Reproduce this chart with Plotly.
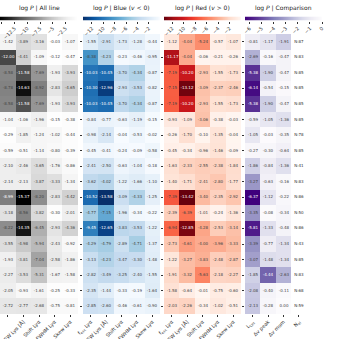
import numpy as np
import plotly.graph_objects as go
import plotly.express as px

# rows of log P values, columns: f_esc, EW, Shift, FWHM, Skew
all_line = [
    [-1.42, -3.89, -3.16, -0.03, -1.07],
    [-12.00, -4.41, -1.09, -0.12, -0.47],
    [-8.58, -11.58, -7.69, -1.93, -3.93],
    [-8.78, -14.63, -8.92, -2.83, -4.65],
    [-8.58, -11.58, -7.69, -1.93, -3.93],
    [-1.04, -1.06, -1.96, -0.15, -0.38],
    [-0.29, -1.85, -1.24, -1.02, -0.44],
    [-0.59, -0.51, -1.14, -0.80, -0.39],
    [-2.10, -2.46, -3.65, -1.76, -0.86],
    [-2.14, -2.13, -3.87, -3.33, -1.34],
    [-8.99, -15.37, -8.20, -2.83, -4.42],
    [-3.18, -8.56, -3.82, -0.30, -2.01],
    [-8.22, -14.35, -6.45, -2.93, -4.36],
    [-3.55, -4.98, -5.94, -2.43, -0.92],
    [-1.93, -3.81, -7.04, -2.58, -1.86],
    [-2.27, -3.53, -5.31, -1.67, -1.58],
    [-2.05, -0.93, -1.61, -0.25, -0.33],
    [-2.72, -2.77, -2.68, -0.75, -0.81],
]
blue = [
    [-1.55, -2.91, -1.73, -1.28, -0.44],
    [-8.38, -4.23, -0.23, -0.46, -0.95],
    [-10.03, -10.45, -3.70, -4.34, -0.87],
    [-10.30, -12.96, -2.93, -3.53, -0.82],
    [-10.03, -10.45, -3.70, -4.34, -0.87],
    [-0.84, -0.77, -0.63, -1.19, -0.15],
    [-0.98, -2.14, -0.04, -0.53, -0.02],
    [-0.45, -0.41, -0.24, -0.09, -0.58],
    [-2.41, -2.50, -0.63, -1.04, -0.18],
    [-3.62, -4.02, -1.22, -1.66, -1.10],
    [-10.52, -13.58, -3.09, -4.33, -1.25],
    [-4.77, -7.15, -1.96, -0.34, -0.22],
    [-9.45, -12.65, -3.83, -3.53, -1.22],
    [-4.29, -4.79, -2.89, -4.71, -1.37],
    [-3.13, -4.23, -3.47, -3.30, -1.48],
    [-2.82, -3.49, -3.25, -2.40, -1.55],
    [-2.35, -1.44, -0.33, -0.19, -1.64],
    [-2.85, -2.60, -0.46, -0.61, -0.90],
]
red = [
    [-1.12, -4.04, -5.24, -0.57, -1.07],
    [-11.17, -4.04, -0.06, -0.21, -0.26],
    [-7.19, -10.20, -2.93, -1.55, -1.73],
    [-7.15, -13.12, -3.09, -2.37, -2.46],
    [-7.19, -10.20, -2.93, -1.55, -1.73],
    [-0.93, -1.09, -3.06, -0.38, -0.03],
    [-0.26, -1.70, -0.10, -1.35, -0.04],
    [-0.45, -0.34, -0.96, -1.46, -0.09],
    [-1.63, -2.33, -2.55, -2.38, -1.84],
    [-1.40, -1.71, -2.41, -2.80, -1.77],
    [-7.39, -13.42, -3.40, -2.35, -2.92],
    [-2.39, -6.39, -1.01, -0.24, -1.36],
    [-6.94, -12.85, -4.28, -2.53, -3.14],
    [-2.73, -4.61, -4.00, -3.96, -3.33],
    [-1.22, -3.27, -3.83, -2.48, -2.87],
    [-1.91, -3.32, -5.63, -2.18, -2.27],
    [-1.58, -0.64, -0.01, -0.75, -0.60],
    [-2.03, -2.26, -0.34, -1.02, -0.51],
]
comparison = [
    [-0.81, -1.17, -1.91],
    [-2.69, -0.16, -0.47],
    [-5.38, -1.90, -0.47],
    [-6.14, -0.54, -0.15],
    [-5.38, -1.90, -0.47],
    [-0.59, -1.05, -1.36],
    [-1.05, -0.03, -0.35],
    [-0.27, -0.30, -0.64],
    [-1.86, -0.84, -1.36],
    [-3.27, -0.63, -0.16],
    [-6.37, -1.12, -0.22],
    [-3.35, -0.08, -0.34],
    [-5.81, -1.33, -0.48],
    [-3.39, -0.77, -1.34],
    [-3.07, -1.48, -1.34],
    [-1.85, -4.44, -2.63],
    [-2.08, -0.40, -0.11],
    [-2.13, -0.28, -0.00],
]
n_counts = [87, 83, 85, 85, 85, 85, 78, 85, 41, 83, 86, 50, 86, 43, 85, 83, 68, 59]

line_labels = ["f<sub>esc</sub> Lyα", "EW Lyα [Å]", "Shift Lyα", "FWHM Lyα", "Skew Lyα"]
comp_labels = ["L<sub>Lyα</sub>", "Δv peak", "Δv mom", "N<sub>el</sub>"]
titles = ["log <i>P</i> | All line", "log <i>P</i> | Blue (<i>v</i> < 0)",
          "log <i>P</i> | Red (<i>v</i> > 0)", "log <i>P</i> | Comparison"]
cb_ticks = [[-15, -12.5, -10, -7.5, -5, -2.5, 0],
            [-12, -10, -8, -6, -4, -2, 0],
            [-12, -10, -8, -6, -4, -2, 0],
            [-6, -5, -4, -3, -2, -1, 0]]


def rev(scale):
    cols = scale[::-1]
    return [[i / (len(cols) - 1), c] for i, c in enumerate(cols)]


W, H = 337, 339
panels_px = [(0, 78), (83, 160), (164, 241), (245, 322)]
heat_top, heat_bot = 34, 314
cb_top, cb_bot = 16.5, 20.5

fig = go.Figure()
font = "DejaVu Sans"
rows = list(range(len(n_counts)))

data_sets = [all_line, blue, red, comparison]
scales = [rev(px.colors.sequential.Greys), rev(px.colors.sequential.Blues),
          rev(px.colors.sequential.Reds), rev(px.colors.sequential.Purples)]

axis_common = dict(showgrid=False, zeroline=False, showline=False, automargin=False,
                   ticks="outside", ticklen=2, tickwidth=0.6, tickcolor="#333")

for i, (z, cs) in enumerate(zip(data_sets, scales)):
    ax = str(i + 1) if i else ""
    cax = str(i + 5)
    x0, x1 = panels_px[i]
    ncol = len(z[0])
    zmin, zmax = float(np.min(z)), float(np.max(z))

    fig.add_trace(go.Heatmap(
        z=z, x=list(range(ncol)), y=rows,
        colorscale=cs, zmin=zmin, zmax=zmax, showscale=False,
        texttemplate="%{z:.2f}",
        textfont=dict(size=4, family=font),
        xaxis="x" + ax, yaxis="y" + ax, hoverinfo="skip",
    ))
    labels = line_labels if i < 3 else comp_labels
    fig.layout["xaxis" + ax] = dict(
        domain=[x0 / W, x1 / W], anchor="y" + ax,
        range=[-0.5, 4.5],
        tickvals=list(range(len(labels))), ticktext=labels,
        tickangle=-45, tickfont=dict(size=5, family=font, color="#333"),
        **axis_common,
    )
    fig.layout["yaxis" + ax] = dict(
        domain=[1 - heat_bot / H, 1 - heat_top / H], anchor="x" + ax,
        range=[len(rows) - 0.5, -0.5],
        tickvals=rows, showticklabels=False,
        **axis_common,
    )

    # colour bar strip across the top of the panel
    grad = np.linspace(zmin, zmax, 200)
    fig.add_trace(go.Heatmap(
        z=[grad], x=grad, y=[0],
        colorscale=cs, zmin=zmin, zmax=zmax, showscale=False,
        xaxis="x" + cax, yaxis="y" + cax, hoverinfo="skip",
    ))
    fig.layout["xaxis" + cax] = dict(
        domain=[x0 / W, x1 / W], anchor="y" + cax,
        range=[zmin, zmax], side="bottom",
        tickvals=cb_ticks[i], tickangle=-45,
        tickfont=dict(size=5, family=font, color="#333"),
        **axis_common,
    )
    fig.layout["yaxis" + cax] = dict(
        domain=[1 - cb_bot / H, 1 - cb_top / H], anchor="x" + cax,
        range=[-0.5, 0.5], showticklabels=False, showgrid=False,
        zeroline=False, showline=False, ticks="",
    )

    fig.add_annotation(
        text=titles[i], x=(x0 + x1) / 2 / W, y=1 - 8 / H,
        xref="paper", yref="paper", xanchor="center", yanchor="middle",
        showarrow=False,
        font=dict(size=6, family=font, color="#222"),
    )

# N counts next to comparison panel
fig.add_trace(go.Scatter(
    x=[3] * len(n_counts), y=rows, mode="text",
    text=[f"N:{n}" for n in n_counts],
    textfont=dict(size=4, family=font, color="#333"),
    xaxis="x4", yaxis="y4", showlegend=False, hoverinfo="skip",
))

fig.update_layout(
    width=W, height=H,
    margin=dict(l=0, r=0, t=0, b=0),
    plot_bgcolor="white", paper_bgcolor="white",
    showlegend=False,
)

fig.write_html("out.html", config={"displayModeBar": False},
               post_script="document.body.style.margin='0px';")
